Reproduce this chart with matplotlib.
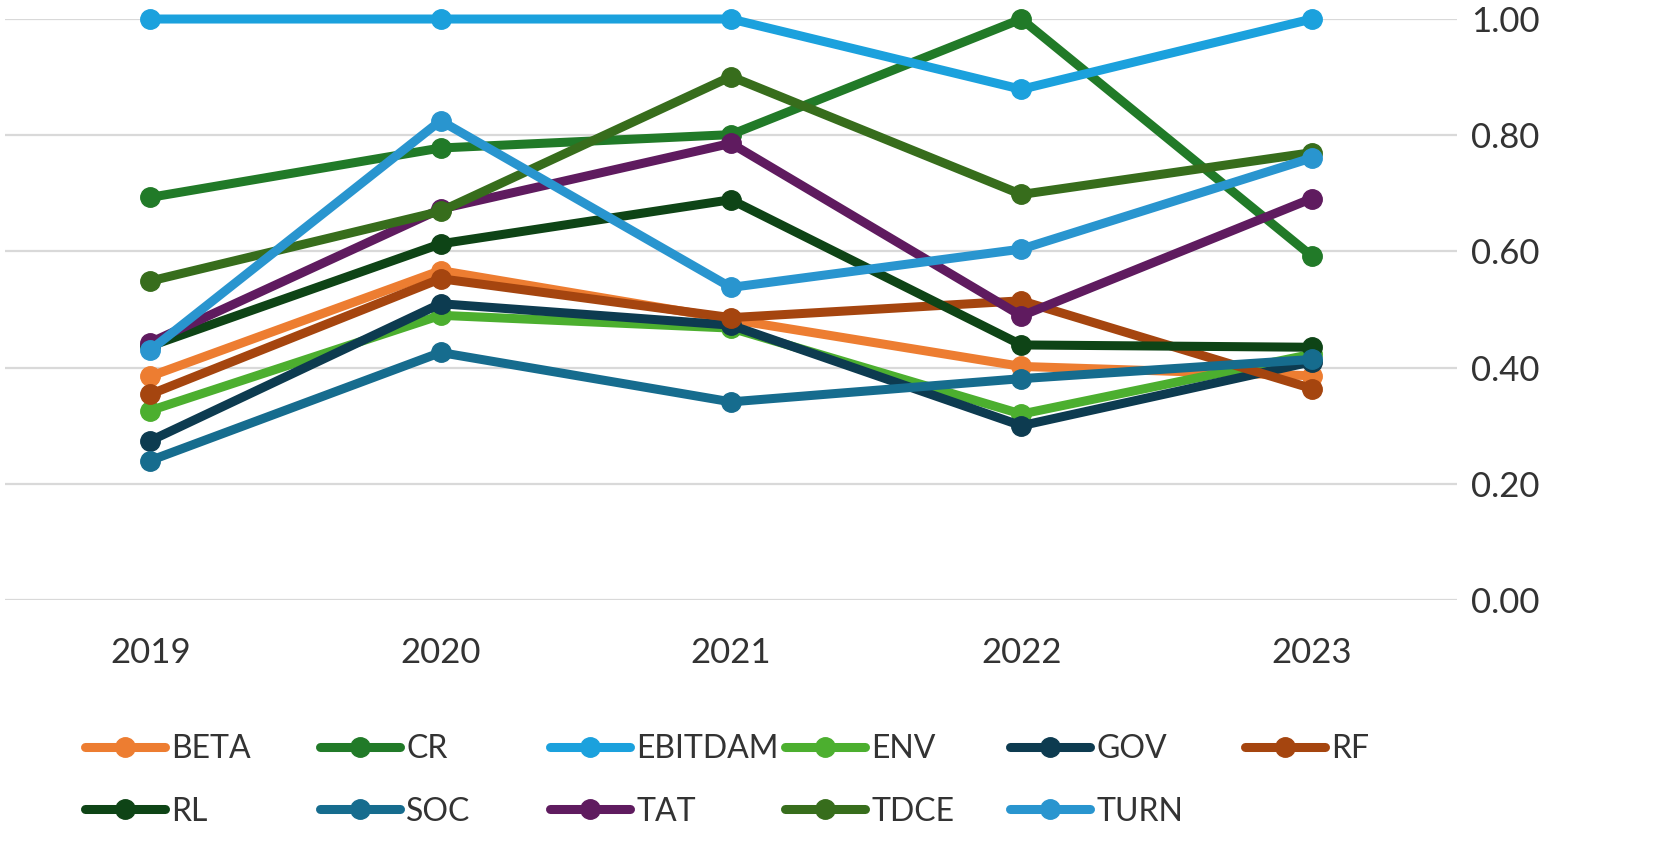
import matplotlib
matplotlib.use("Agg")
import matplotlib.pyplot as plt

plt.rcParams['font.family'] = ['Lato', 'DejaVu Sans']

years = ["2019", "2020", "2021", "2022", "2023"]

beta = [0.385, 0.567, 0.483, 0.402, 0.386]
cr = [0.693, 0.778, 0.801, 1.00, 0.592]
ebitdam = [1.00, 1.00, 1.00, 0.879, 1.00]
env = [0.326, 0.490, 0.468, 0.320, 0.423]
gov = [0.274, 0.510, 0.473, 0.300, 0.410]
rf = [0.354, 0.553, 0.486, 0.515, 0.364]
rl = [0.437, 0.613, 0.689, 0.439, 0.435]
soc = [0.240, 0.426, 0.341, 0.381, 0.414]
tat = [0.443, 0.673, 0.786, 0.489, 0.691]
tdce = [0.549, 0.669, 0.901, 0.698, 0.770]
turn = [0.430, 0.825, 0.538, 0.604, 0.761]

series = [
    ("BETA", beta, "#ED7D31"),
    ("CR", cr, "#217A28"),
    ("EBITDAM", ebitdam, "#1BA1DD"),
    ("ENV", env, "#4CAF2F"),
    ("GOV", gov, "#0D3B50"),
    ("RF", rf, "#A5450F"),
    ("RL", rl, "#0E4416"),
    ("SOC", soc, "#166C8E"),
    ("TAT", tat, "#5F1B5F"),
    ("TDCE", tdce, "#376D1C"),
    ("TURN", turn, "#2995CF"),
]

fig = plt.figure(figsize=(16.67, 8.49), dpi=100)
ax = fig.add_axes([0.003, 0.2933, 0.871, 0.6843])

x = list(range(len(years)))
handles = {}
for name, vals, color in series:
    line, = ax.plot(x, vals, color=color, lw=6.5, marker='o', markersize=14,
                    solid_capstyle='round', clip_on=False, label=name, zorder=3)
    handles[name] = line

ax.set_xlim(-0.5, 4.5)
ax.set_ylim(0, 1.0)
ax.set_xticks(x)
ax.set_xticklabels(years)
ax.set_yticks([0, 0.2, 0.4, 0.6, 0.8, 1.0])
ax.set_yticklabels([f"{v:.2f}" for v in [0, 0.2, 0.4, 0.6, 0.8, 1.0]])
ax.yaxis.tick_right()
ax.tick_params(axis='both', length=0, labelsize=25, colors='#333333')
ax.tick_params(axis='y', pad=10)
ax.tick_params(axis='x', pad=27)
ax.grid(axis='y', color='#D9D9D9', lw=1.6, zorder=0)
for s in ax.spines.values():
    s.set_visible(False)

# Excel-style legend: fixed-width columns, filled row by row
columns = [["BETA", "RL"], ["CR", "SOC"], ["EBITDAM", "TAT"],
           ["ENV", "TDCE"], ["GOV", "TURN"], ["RF"]]
col_x = [85, 320, 550, 785, 1010, 1245]
for names, cx in zip(columns, col_x):
    fig.legend([handles[n] for n in names], names, loc='upper left',
               bbox_to_anchor=(cx / 1667, 1 - 734 / 849), ncol=1, frameon=False,
               fontsize=23, handlelength=2.5, handletextpad=0.2,
               labelspacing=1.02, borderpad=0, borderaxespad=0,
               labelcolor='#333333')

fig.savefig("out.png", dpi=100)
